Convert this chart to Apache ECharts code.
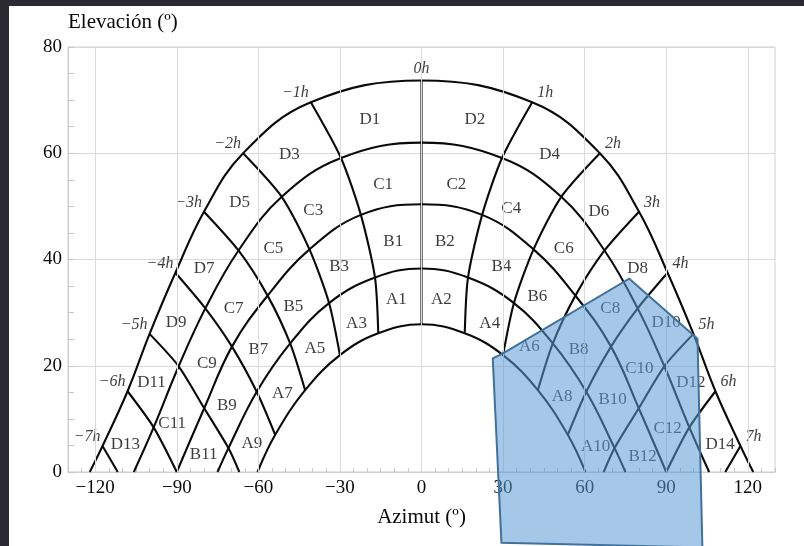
<!DOCTYPE html>
<html>
<head>
<meta charset="utf-8">
<script src="https://cdn.jsdelivr.net/npm/echarts@6.0.0/dist/echarts.min.js"></script>
<style>
  html, body { margin: 0; padding: 0; width: 804px; height: 546px; overflow: hidden; background: #2b2a33; }
  #chart { position: absolute; left: 9px; top: 6px; width: 795px; height: 540px; background: #fff; }
</style>
</head>
<body>
<div id="chart"></div>
<script>
// solar hours, one column per hour in the arc tables below
var hours = [-7, -6, -5, -4, -3, -2, -1, 0, 1, 2, 3, 4, 5, 6, 7];

// sun path arcs: [azimut, elevacion] where each hour line crosses them
var arc1 = [[-117.3, 4.9], [-108.1, 15.2], [-100, 26], [-90.5, 37.5], [-80, 49], [-65.6, 60], [-40.7, 69.6], [0, 73.7],
            [40.7, 69.6], [65.6, 60], [80, 49], [90.5, 37.5], [100, 26], [108.1, 15.2], [117.3, 4.9]];
var arc2 = [null, [-98.5, 8.4], [-89.3, 19.9], [-79.5, 30.8], [-67.3, 41.7], [-51.4, 51.8], [-29.6, 59.1], [0, 62],
            [29.6, 59.1], [51.4, 51.8], [67.3, 41.7], [79.5, 30.8], [89.3, 19.9], [98.5, 8.4], null];
var arc3 = [null, [-90, 0], [-79.9, 12], [-69.7, 23.6], [-56.6, 33.2], [-41.2, 41.9], [-22.3, 48.4], [0, 50.4],
            [22.3, 48.4], [41.2, 41.9], [56.6, 33.2], [69.7, 23.6], [79.9, 12], [90, 0], null];
var arc4 = [null, null, [-71, 4.5], [-60.6, 15.1], [-48.3, 24.2], [-34, 31.8], [-17.1, 36.6], [0, 38.3],
            [17.1, 36.6], [34, 31.8], [48.3, 24.2], [60.6, 15.1], [71, 4.5], null, null];
var arc5 = [null, null, null, [-53.8, 7], [-42.8, 15.4], [-30, 22], [-15.9, 26.1], [0, 27.8],
            [15.9, 26.1], [30, 22], [42.8, 15.4], [53.8, 7], null, null, null];
// where each arc meets the horizon (left, right)
var arcFeet = [[-122, 122], [-105.8, 105.8], [-90, 90], [-75, 75], [-60.3, 60.3]];
// where hour lines that do not reach the last arc meet the horizon
var hourFeet = [-111.7, null, -67, null, null, null, null, null, null, null, null, null, 67, null, 111.7];

var xTicks = [-120, -90, -60, -30, 0, 30, 60, 90, 120];

// sector names and where they are written [name, azimut, elevacion]
var cellLabels = [
  ['D1', -19, 66.4], ['D2', 19.6, 66.4], ['D3', -48.6, 59.7], ['D4', 47.1, 59.7], ['D5', -66.9, 50.7], ['D6', 65.2, 49.1],
  ['D7', -79.9, 38.3], ['D8', 79.5, 38.3], ['D9', -90.2, 28.1], ['D10', 90, 28.2], ['D11', -99.3, 16.8], ['D12', 99.1, 16.8],
  ['D13', -108.9, 5.1], ['D14', 109.8, 5.2],
  ['C1', -14.1, 54.2], ['C2', 12.8, 54.2], ['C3', -39.8, 49.3], ['C4', 33, 49.6], ['C5', -54.5, 42.1], ['C6', 52.3, 42.1],
  ['C7', -69.1, 30.8], ['C8', 69.4, 30.8], ['C9', -78.9, 20.5], ['C10', 80.1, 19.5], ['C11', -91.7, 9.2], ['C12', 90.5, 8.2],
  ['B1', -10.4, 43.4], ['B2', 8.6, 43.4], ['B3', -30.3, 38.6], ['B4', 29.4, 38.6], ['B5', -47.1, 31.2], ['B6', 42.6, 33.1],
  ['B7', -60, 23.1], ['B8', 57.8, 23.1], ['B9', -71.6, 12.6], ['B10', 70.3, 13.7], ['B11', -80.1, 3.2], ['B12', 81.3, 2.9],
  ['A1', -9.2, 32.4], ['A2', 7.3, 32.4], ['A3', -23.9, 28], ['A4', 25.1, 28], ['A5', -39.2, 23.3], ['A6', 39.7, 23.7],
  ['A7', -51.2, 14.7], ['A8', 51.7, 14.2], ['A9', -62.4, 5.4], ['A10', 64, 4.8]
];

// shaded obstacle outline
var polyX = [26.2, 29.8, 76.4, 101.5, 103.3, 29.4];
var polyY = [21.4, 22.3, 36.4, 25.1, -14.2, -13.3];

var serif = "'Liberation Serif', 'Times New Roman', serif";
var ink = '#0a0a0a';

function lineSeries(pts, smooth) {
  return {
    type: 'line', data: pts, smooth: smooth, showSymbol: false, silent: true, z: 3,
    lineStyle: { color: ink, width: 2.1 }
  };
}

var arcs = [arc1, arc2, arc3, arc4, arc5];
var series = [];

// vertical grid lines every 30 degrees
series.push({
  type: 'line', data: [], z: 1, silent: true,
  markLine: {
    silent: true, symbol: 'none', animation: false,
    label: { show: false },
    lineStyle: { color: '#dadada', width: 1, type: 'solid' },
    data: xTicks.map(function (v) { return { xAxis: v }; })
  }
});

arcs.forEach(function (arc, k) {
  var pts = arc.filter(function (p) { return p; });
  if (pts[0][1] !== 0) pts.unshift([arcFeet[k][0], 0]);
  if (pts[pts.length - 1][1] !== 0) pts.push([arcFeet[k][1], 0]);
  series.push(lineSeries(pts, 0.4));
});

hours.forEach(function (h, i) {
  var pts = [];
  arcs.forEach(function (arc) { if (arc[i]) pts.push(arc[i]); });
  if (hourFeet[i] !== null) pts.push([hourFeet[i], 0]);
  series.push(lineSeries(pts, 0.25));
});

// hour names on the outer arc
series.push({
  type: 'scatter', symbolSize: 0, silent: true, z: 4,
  data: hours.map(function (h, i) {
    var txt = (h < 0 ? '\u2212' + (-h) : String(h)) + 'h';
    var align = h < 0 ? 'right' : (h > 0 ? 'left' : 'center');
    var off = h < 0 ? [-2, -9] : (h > 0 ? [5, -9] : [0, -12]);
    return {
      value: arc1[i],
      label: { show: true, position: 'inside', formatter: txt, align: align, offset: off }
    };
  }),
  label: { color: ink, fontFamily: serif, fontStyle: 'italic', fontSize: 16 }
});

// sector names
series.push({
  type: 'scatter', symbolSize: 0, silent: true, z: 4,
  data: cellLabels.map(function (c) { return { name: c[0], value: [c[1], c[2]] }; }),
  label: { show: true, position: 'inside', formatter: '{b}', color: ink, fontFamily: serif, fontSize: 17 }
});

// blue obstacle polygon
series.push({
  type: 'custom', z: 10, silent: true, clip: false,
  data: [[polyX[0], polyY[0]]],
  renderItem: function (params, api) {
    var pts = polyX.map(function (x, i) { return api.coord([x, polyY[i]]); });
    return {
      type: 'polygon',
      shape: { points: pts },
      style: { fill: 'rgba(91,155,213,0.55)', stroke: '#41719c', lineWidth: 2 }
    };
  }
});

var myChart = echarts.init(document.getElementById('chart'));
var option = {
  animation: false,
  grid: { left: 59, right: 29, top: 41, bottom: 74, show: true, borderColor: '#cfcfcf', borderWidth: 1, outerBoundsMode: 'none' },
  xAxis: {
    type: 'value', min: -130, max: 130, interval: 5,
    name: 'Azimut (º)', nameLocation: 'middle', nameGap: 35,
    nameTextStyle: { color: ink, fontFamily: serif, fontSize: 21 },
    axisLine: { onZero: false, lineStyle: { color: '#cfcfcf' } },
    axisTick: { show: true, inside: true, length: 4, lineStyle: { color: '#c4c4c4' } },
    axisLabel: {
      margin: 7, color: ink, fontFamily: serif, fontSize: 19,
      formatter: function (v) {
        v = Math.round(v);
        if (xTicks.indexOf(v) < 0) return '';
        return v < 0 ? '\u2212' + (-v) : String(v);
      }
    },
    splitLine: { show: false }
  },
  yAxis: {
    type: 'value', min: 0, max: 80, interval: 20,
    name: 'Elevación (º)', nameLocation: 'end', nameGap: 14,
    nameTextStyle: { color: ink, fontFamily: serif, fontSize: 21, align: 'left', verticalAlign: 'bottom' },
    axisLine: { show: true, onZero: false, lineStyle: { color: '#cfcfcf' } },
    axisTick: { show: true, inside: true, length: 6, lineStyle: { color: '#c4c4c4' } },
    minorTick: { show: true, splitNumber: 4, length: 6, lineStyle: { color: '#c4c4c4' } },
    axisLabel: { margin: 6, color: ink, fontFamily: serif, fontSize: 19 },
    splitLine: { show: true, lineStyle: { color: '#dadada', width: 1 } }
  },
  series: series
};
myChart.setOption(option);
</script>
</body>
</html>
